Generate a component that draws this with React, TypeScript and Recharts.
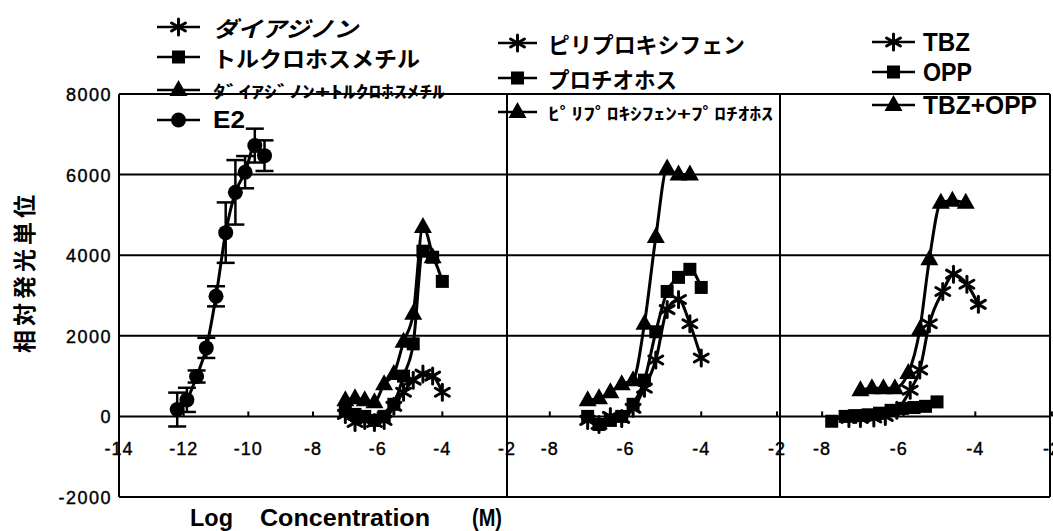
import React from "react";
import { LineChart, Line, XAxis, YAxis, CartesianGrid, ReferenceLine, ErrorBar } from "recharts";

// 軸・目盛り
const Y_MIN = -2000;
const Y_MAX = 8000;
const Y_TICKS = [-2000, 0, 2000, 4000, 6000, 8000];
const X_TICKS_1 = [-14, -12, -10, -8, -6, -4, -2];
const X_TICKS_2 = [-8, -6, -4, -2];
const X_TICKS_3 = [-8, -6, -4, -2];

// パネル1: E2 + ダイアジノン / トルクロホスメチル
const E2_X = [-12.2, -11.9, -11.6, -11.3, -11.0, -10.7, -10.4, -10.1, -9.8, -9.5];
const E2_Y = [170, 410, 990, 1700, 2980, 4560, 5560, 6060, 6720, 6470];
const E2_ERR = [420, 300, 150, 250, 250, 750, 800, 400, 420, 380];

const P1_X = [-7.0, -6.7, -6.4, -6.1, -5.8, -5.5, -5.2, -4.9, -4.6, -4.3, -4.0];
const DIAZINON = [50, -150, -100, -150, -100, 250, 600, 900, 1050, 1000, 600];
const TOLCLOFOS = [150, 50, 0, -100, 0, 300, 1000, 1800, 4100, 3950, 3350];
const DIA_TOL = [400, 450, 400, 350, 800, 1050, 1850, 2550, 4700, 3950];

// パネル2: ピリプロキシフェン / プロチオホス
const P2_X = [-7.0, -6.7, -6.4, -6.1, -5.8, -5.5, -5.2, -4.9, -4.6, -4.3, -4.0];
const PYRIPROXYFEN = [-100, -200, 0, -50, 200, 700, 1400, 2650, 2900, 2300, 1450];
const PROTHIOFOS = [0, -200, -100, 0, 300, 900, 2100, 3100, 3450, 3650, 3200];
const PYR_PRO = [400, 450, 600, 800, 900, 2300, 4450, 6150, 6000, 6000];

// パネル3: TBZ / OPP
const TBZ_X = [-7.3, -7.0, -6.65, -6.35, -6.05, -5.7, -5.45, -5.2, -4.85, -4.57, -4.22, -3.92];
const TBZ = [-50, -50, -40, 0, 150, 650, 1150, 2300, 3100, 3530, 3280, 2780];
const OPP_X = [-7.75, -7.4, -7.1, -6.8, -6.5, -6.2, -5.9, -5.6, -5.3, -5.0];
const OPP = [-120, 0, 20, 40, 80, 150, 200, 220, 250, 360];
const MIX_X = [-7.0, -6.7, -6.4, -6.1, -5.75, -5.45, -5.2, -4.9, -4.6, -4.25];
const TBZ_OPP = [650, 700, 700, 700, 1080, 2150, 3900, 5300, 5350, 5300];

// 凡例
const LEGEND_1 = ["ダイアジノン", "トルクロホスメチル", "ﾀﾞｲｱｼﾞﾉﾝ+ﾄﾙｸﾛﾎｽﾒﾁﾙ", "E2"];
const LEGEND_2 = ["ピリプロキシフェン", "プロチオホス", "ﾋﾟﾘﾌﾟﾛｷｼﾌｪﾝ+ﾌﾟﾛﾁｵﾎｽ"];
const LEGEND_3 = ["TBZ", "OPP", "TBZ+OPP"];
const Y_TITLE = "相対発光単位";

const W = 1053;
const H = 531;
const PLOT_TOP = 94;
const PLOT_BOTTOM = 497;
const ZERO_Y = PLOT_TOP + ((PLOT_BOTTOM - PLOT_TOP) * Y_MAX) / (Y_MAX - Y_MIN);
const NUM_FONT = "'Liberation Sans', Arial, sans-serif";
const JP_FONT = "'Noto Sans CJK JP', sans-serif";

const rows = (xs: number[], ys: number[], errs?: number[]) =>
  ys.map((y, i) => ({ x: xs[i], y, err: errs ? errs[i] : 0 }));

type Shape = "star" | "square" | "tri" | "circle";

function Marker({ shape, cx, cy }: { shape: Shape; cx: number; cy: number }) {
  if (cx == null || cy == null) return null;
  if (shape === "square") return <rect x={cx - 6.5} y={cy - 6.5} width={13} height={13} fill="#000" />;
  if (shape === "circle") return <circle cx={cx} cy={cy} r={7.5} fill="#000" />;
  if (shape === "tri")
    return <polygon points={`${cx},${cy - 10} ${cx - 9},${cy + 6} ${cx + 9},${cy + 6}`} fill="#000" />;
  const s = 8;
  return (
    <g stroke="#000" strokeWidth={3} strokeLinecap="round">
      <line x1={cx} y1={cy - s} x2={cx} y2={cy + s} />
      <line x1={cx - s * 0.87} y1={cy - s * 0.5} x2={cx + s * 0.87} y2={cy + s * 0.5} />
      <line x1={cx - s * 0.87} y1={cy + s * 0.5} x2={cx + s * 0.87} y2={cy - s * 0.5} />
    </g>
  );
}

const XTick = ({ x, payload }: any) => (
  <g>
    <line x1={x} x2={x} y1={ZERO_Y - 5} y2={ZERO_Y} stroke="#000" strokeWidth={2} />
    <text x={x} y={ZERO_Y + 39} textAnchor="middle" fontSize={18} fontFamily={NUM_FONT} letterSpacing={1} fill="#000" stroke="#000" strokeWidth={0.4}>
      {payload.value}
    </text>
  </g>
);

const YTick = ({ x, y, payload }: any) => (
  <text x={x} y={y} dy={7} textAnchor="end" fontSize={18} fontFamily={NUM_FONT} letterSpacing={1.5} fill="#000" stroke="#000" strokeWidth={0.4}>
    {payload.value}
  </text>
);

interface SeriesDef {
  name: string;
  shape: Shape;
  data: { x: number; y: number; err: number }[];
  errors?: boolean;
}

interface PanelProps {
  left: number;
  width: number;
  marginLeft: number;
  marginRight: number;
  domain: [number, number];
  ticks: number[];
  showY: boolean;
  series: SeriesDef[];
}

function Panel({ left, width, marginLeft, marginRight, domain, ticks, showY, series }: PanelProps) {
  return (
    <div style={{ position: "absolute", left, top: 0 }}>
      <LineChart
        width={width}
        height={H}
        margin={{ top: PLOT_TOP, right: marginRight, bottom: H - PLOT_BOTTOM - 1, left: marginLeft }}
      >
        <CartesianGrid vertical={false} stroke="#000" strokeWidth={2} strokeOpacity={1} />
        <XAxis
          type="number"
          dataKey="x"
          domain={domain}
          ticks={ticks}
          interval={0}
          allowDataOverflow
          axisLine={false}
          tickLine={false}
          height={1}
          tick={<XTick />}
        />
        <YAxis
          type="number"
          domain={[Y_MIN, Y_MAX]}
          ticks={Y_TICKS}
          interval={0}
          hide={!showY}
          width={showY ? 119 : 0}
          axisLine={false}
          tickLine={false}
          tickSize={0}
          tickMargin={7}
          tick={<YTick />}
        />
        <ReferenceLine x={domain[0]} stroke="#000" strokeWidth={2} />
        <ReferenceLine x={domain[1]} stroke="#000" strokeWidth={2} />
        {series.map((s) => (
          <Line
            key={s.name}
            data={s.data}
            dataKey="y"
            name={s.name}
            type="monotone"
            stroke="#000"
            strokeWidth={3}
            isAnimationActive={false}
            activeDot={false}
            dot={(p: any) => <Marker key={`${s.name}-${p.index}`} shape={s.shape} cx={p.cx} cy={p.cy} />}
          >
            {s.errors && <ErrorBar dataKey="err" width={9} stroke="#000" strokeWidth={2.5} direction="y" />}
          </Line>
        ))}
      </LineChart>
    </div>
  );
}

const SHAPES: Shape[] = ["star", "square", "tri", "circle"];

function LegendBlock({ names, x1, x2, tx, ys, sizes, lengths, italic }: any) {
  return (
    <g>
      {names.map((n: string, i: number) => (
        <g key={n}>
          <line x1={x1} x2={x2} y1={ys[i]} y2={ys[i]} stroke="#000" strokeWidth={2.5} />
          <Marker shape={SHAPES[i]} cx={(x1 + x2) / 2} cy={ys[i]} />
          <text
            x={tx}
            y={ys[i]}
            dominantBaseline="central"
            fontSize={sizes[i]}
            fontWeight="bold"
            fontStyle={italic && i === 0 ? "italic" : "normal"}
            fontFamily={/[A-Z]/.test(n[0]) ? NUM_FONT : JP_FONT}
            textLength={lengths[i]}
            lengthAdjust="spacingAndGlyphs"
            fill="#000"
          >
            {n}
          </text>
        </g>
      ))}
    </g>
  );
}

export default function App() {
  const d1: [number, number] = [-14, -2];
  const d2: [number, number] = [-9.13, -1.92];
  const d3: [number, number] = [-9.1, -2.05];

  return (
    <div style={{ position: "absolute", left: 0, top: 0, width: W, height: H, background: "#fff", overflow: "hidden" }}>
      <Panel
        left={0}
        width={520}
        marginLeft={0}
        marginRight={13}
        domain={d1}
        ticks={X_TICKS_1}
        showY
        series={[
          { name: LEGEND_1[0], shape: "star", data: rows(P1_X, DIAZINON) },
          { name: LEGEND_1[1], shape: "square", data: rows(P1_X, TOLCLOFOS) },
          { name: LEGEND_1[2], shape: "tri", data: rows(P1_X, DIA_TOL) },
          { name: LEGEND_1[3], shape: "circle", data: rows(E2_X, E2_Y, E2_ERR), errors: true },
        ]}
      />
      <Panel
        left={480}
        width={313}
        marginLeft={27}
        marginRight={13}
        domain={d2}
        ticks={X_TICKS_2}
        showY={false}
        series={[
          { name: LEGEND_2[0], shape: "star", data: rows(P2_X, PYRIPROXYFEN) },
          { name: LEGEND_2[1], shape: "square", data: rows(P2_X, PROTHIOFOS) },
          { name: LEGEND_2[2], shape: "tri", data: rows(P2_X, PYR_PRO) },
        ]}
      />
      <Panel
        left={760}
        width={293}
        marginLeft={20}
        marginRight={3}
        domain={d3}
        ticks={X_TICKS_3}
        showY={false}
        series={[
          { name: LEGEND_3[0], shape: "star", data: rows(TBZ_X, TBZ) },
          { name: LEGEND_3[1], shape: "square", data: rows(OPP_X, OPP) },
          { name: LEGEND_3[2], shape: "tri", data: rows(MIX_X, TBZ_OPP) },
        ]}
      />
      <svg width={W} height={H} style={{ position: "absolute", left: 0, top: 0, pointerEvents: "none" }}>
        <LegendBlock
          names={LEGEND_1}
          x1={157}
          x2={200}
          tx={213}
          ys={[27, 57, 90, 120]}
          sizes={[22, 22, 17, 23]}
          lengths={[145, 207, 232, 32]}
          italic
        />
        <LegendBlock
          names={LEGEND_2}
          x1={498}
          x2={537}
          tx={548}
          ys={[43, 78, 112]}
          sizes={[22, 22, 17]}
          lengths={[197, 129, 225]}
        />
        <LegendBlock
          names={LEGEND_3}
          x1={872}
          x2={915}
          tx={923}
          ys={[42, 72, 105]}
          sizes={[25, 25, 25]}
          lengths={[47, 49, 114]}
        />
        <text
          transform="translate(23, 272) rotate(-90)"
          textAnchor="middle"
          dominantBaseline="central"
          fontSize={23}
          fontWeight="bold"
          fontFamily={JP_FONT}
          letterSpacing={4}
          fill="#000"
        >
          {Y_TITLE}
        </text>
        <g fontSize={24} fontWeight="bold" fontFamily={NUM_FONT} fill="#000">
          <text x={190} y={526} textLength={43} lengthAdjust="spacingAndGlyphs">Log</text>
          <text x={260} y={526} textLength={170} lengthAdjust="spacingAndGlyphs">Concentration</text>
          <text x={472} y={526} textLength={30} lengthAdjust="spacingAndGlyphs">(M)</text>
        </g>
      </svg>
    </div>
  );
}
